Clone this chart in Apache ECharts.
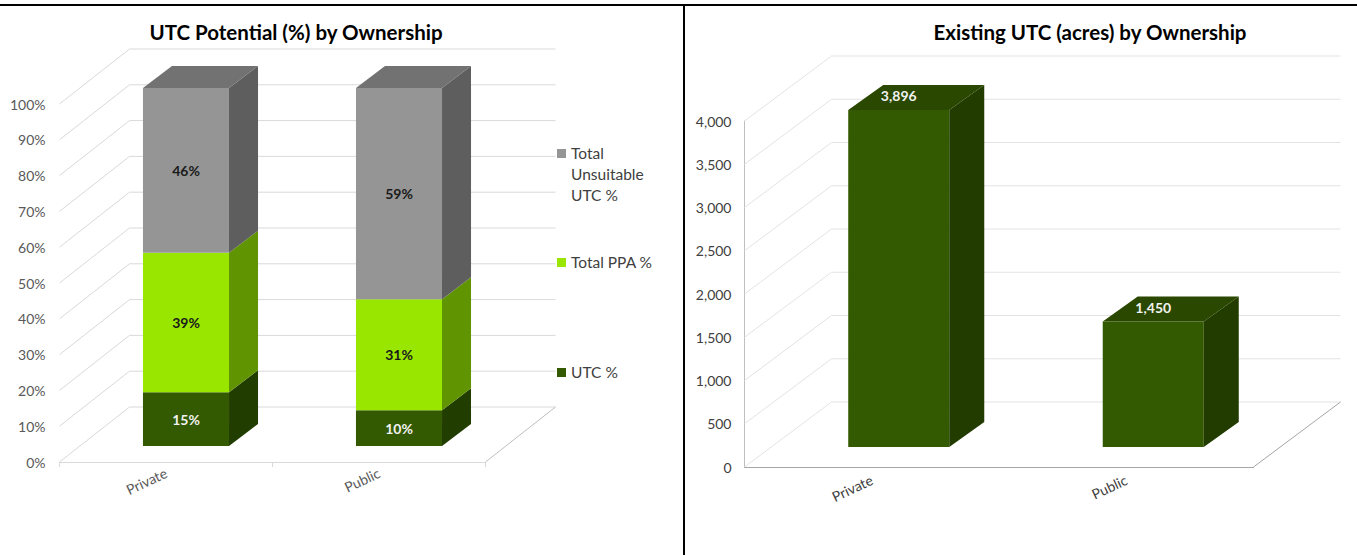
<!DOCTYPE html>
<html><head><meta charset="utf-8">
<script src="https://cdn.jsdelivr.net/npm/echarts@6/dist/echarts.min.js"></script>
<style>html,body{margin:0;padding:0;background:#fff}#c{width:1357px;height:555px}</style>
</head><body><div id="c"></div>
<script>
// ---------- data ----------
const categories = ['Private', 'Public'];
const seriesNames = ['UTC %', 'Total PPA %', 'Total Unsuitable UTC %'];
const utcPct = [15, 10];
const ppaPct = [39, 31];
const unsuitablePct = [46, 59];
const pctTicks = [0, 10, 20, 30, 40, 50, 60, 70, 80, 90, 100];
const acres = [3896, 1450];
const acreTicks = [0, 500, 1000, 1500, 2000, 2500, 3000, 3500, 4000];
const leftTitle = 'UTC Potential (%) by Ownership';
const rightTitle = 'Existing UTC (acres) by Ownership';

// ---------- styles ----------
const FONT = 'Lato, "Liberation Sans", sans-serif';
const segStyles = [
  { front: '#335a00', side: '#223d00', top: '#2a4800', label: '#f2f2f2' },
  { front: '#99e600', side: '#609400', top: '#7fc000', label: '#1a1a1a' },
  { front: '#959595', side: '#5e5e5e', top: '#727272', label: '#1a1a1a' }
];

function wallRender(dx, dy, color, floorColor) {
  return function (params, api) {
    const cs = params.coordSys;
    const v = api.value(1);
    const y = api.coord([0, v])[1];
    const x0 = cs.x, x1 = cs.x + cs.width;
    const ch = [{ type: 'polyline', shape: { points: [[x0, y], [x0 + dx, y + dy], [x1 + dx, y + dy]] },
      style: { stroke: color, lineWidth: 1, fill: null } }];
    if (v === 0) ch.push({ type: 'line', shape: { x1: x1, y1: y, x2: x1 + dx, y2: y + dy },
      style: { stroke: floorColor, lineWidth: 1 } });
    return { type: 'group', children: ch };
  };
}

function barRender(cfg) {
  return function (params, api) {
    const i = api.value(0), b = api.value(1), t = api.value(2), val = api.value(3);
    const p0 = api.coord([i, b]), p1 = api.coord([i, t]);
    const w = api.size([1, 0])[0] * cfg.ratio;
    const xl = p0[0] - w / 2, xr = p0[0] + w / 2;
    const yb = p0[1], yt = p1[1];
    const dx = cfg.dx, dy = cfg.dy;
    const ch = [
      { type: 'rect', shape: { x: xl, y: yt, width: w, height: yb - yt }, style: { fill: cfg.front } },
      { type: 'polygon', shape: { points: [[xr, yt], [xr + dx, yt + dy], [xr + dx, yb + dy], [xr, yb]] }, style: { fill: cfg.side } }
    ];
    if (cfg.isTop) ch.push({ type: 'polygon', shape: { points: [[xl, yt], [xr, yt], [xr + dx, yt + dy], [xl + dx, yt + dy]] }, style: { fill: cfg.top } });
    const ly = cfg.labelOnTop ? yt + dy / 2 - 2 : (yb + yt) / 2;
    ch.push({ type: 'text', style: { text: cfg.fmt(val), x: p0[0], y: ly, fill: cfg.label,
      font: 'bold 14px ' + FONT, align: 'center', verticalAlign: 'middle' } });
    return { type: 'group', children: ch };
  };
}

// stacked segments for left chart
const stacks = [utcPct, ppaPct, unsuitablePct];
const leftBarSeries = stacks.map((arr, s) => {
  const data = arr.map((v, i) => {
    let base = 0; for (let k = 0; k < s; k++) base += stacks[k][i];
    return [i, base, base + v, v];
  });
  const st = segStyles[s];
  return {
    type: 'custom', name: seriesNames[s], xAxisIndex: 1, yAxisIndex: 1, z: 3 + s,
    encode: { x: 0, y: [1, 2] }, data: data,
    renderItem: barRender({ ratio: 0.404, dx: 29, dy: -22, front: st.front, side: st.side, top: st.top,
      isTop: s === stacks.length - 1, label: st.label, fmt: v => v + '%' })
  };
});

const fmtNum = v => Number(v).toLocaleString('en-US');

const option = {
  backgroundColor: '#ffffff',
  animation: false,
  grid: [
    { left: 59.5, top: 104, width: 426, height: 358 },      // left front plane
    { left: 79.5, top: 88, width: 426, height: 358 },       // left bar plane
    { left: 744.5, top: 121, width: 509, height: 346 },     // right front plane
    { left: 771.5, top: 101, width: 509, height: 346 }      // right bar plane
  ],
  xAxis: [
    { gridIndex: 0, type: 'category', data: categories,
      axisLine: { show: true, lineStyle: { color: '#d9d9d9' } },
      axisTick: { show: true, length: 5, lineStyle: { color: '#d9d9d9' } },
      axisLabel: { rotate: 25, margin: 10, color: '#595959', fontSize: 14, fontFamily: FONT } },
    { gridIndex: 1, type: 'category', data: categories, show: false },
    { gridIndex: 2, type: 'category', data: categories,
      axisLine: { show: true, lineStyle: { color: '#a6a6a6' } },
      axisTick: { show: false },
      axisLabel: { rotate: 25, margin: 12, color: '#404040', fontSize: 14, fontFamily: FONT } },
    { gridIndex: 3, type: 'category', data: categories, show: false }
  ],
  yAxis: [
    { gridIndex: 0, type: 'value', min: 0, max: 100, interval: 10,
      axisLine: { show: false }, axisTick: { show: false }, splitLine: { show: false },
      axisLabel: { formatter: '{value}%', margin: 14, color: '#595959', fontSize: 14, fontFamily: FONT } },
    { gridIndex: 1, type: 'value', min: 0, max: 100, show: false },
    { gridIndex: 2, type: 'value', min: 0, max: 4000, interval: 500,
      axisLine: { show: true, lineStyle: { color: '#bfbfbf' } }, axisTick: { show: false }, splitLine: { show: false },
      axisLabel: { formatter: fmtNum, margin: 13, color: '#404040', fontSize: 14, fontFamily: FONT } },
    { gridIndex: 3, type: 'value', min: 0, max: 4000, show: false }
  ],
  series: [
    { type: 'custom', name: 'leftWalls', xAxisIndex: 0, yAxisIndex: 0, z: 1, silent: true,
      data: pctTicks.map(v => [0, v]), encode: { x: 0, y: 1 },
      renderItem: wallRender(70, -55, '#d9d9d9', '#bfbfbf') },
    ...leftBarSeries,
    { type: 'custom', name: 'rightWalls', xAxisIndex: 2, yAxisIndex: 2, z: 1, silent: true,
      data: acreTicks.map(v => [0, v]), encode: { x: 0, y: 1 },
      renderItem: wallRender(87, -65, '#e3e3e3', '#a6a6a6') },
    { type: 'custom', name: 'Existing UTC (acres)', xAxisIndex: 3, yAxisIndex: 3, z: 3,
      encode: { x: 0, y: [1, 2] }, data: acres.map((v, i) => [i, 0, v, v]),
      renderItem: barRender({ ratio: 0.397, dx: 35, dy: -25, front: '#335a00', side: '#223c00', top: '#2a4800',
        isTop: true, labelOnTop: true, label: '#f2f2f2', fmt: fmtNum }) }
  ],
  graphic: [
    { type: 'line', shape: { x1: 0, y1: 5, x2: 1357, y2: 5 }, style: { stroke: '#000', lineWidth: 2 } },
    { type: 'line', shape: { x1: 684, y1: 5, x2: 684, y2: 555 }, style: { stroke: '#000', lineWidth: 2 } },
    { type: 'text', x: 296, y: 32, style: { text: leftTitle, font: 'bold 20.5px ' + FONT, fill: '#000', align: 'center', verticalAlign: 'middle' } },
    { type: 'text', x: 1090, y: 32, style: { text: rightTitle, font: 'bold 20.5px ' + FONT, fill: '#000', align: 'center', verticalAlign: 'middle' } },
    // legend for left chart
    { type: 'rect', shape: { x: 557, y: 149, width: 9, height: 9 }, style: { fill: segStyles[2].front } },
    { type: 'text', x: 571, y: 142, style: { text: 'Total\nUnsuitable\nUTC %', font: '15.5px ' + FONT, lineHeight: 21, fill: '#404040', verticalAlign: 'top' } },
    { type: 'rect', shape: { x: 557, y: 258, width: 9, height: 9 }, style: { fill: segStyles[1].front } },
    { type: 'text', x: 571, y: 262, style: { text: seriesNames[1], font: '15.5px ' + FONT, fill: '#404040', verticalAlign: 'middle' } },
    { type: 'rect', shape: { x: 557, y: 368, width: 9, height: 9 }, style: { fill: segStyles[0].front } },
    { type: 'text', x: 571, y: 372, style: { text: seriesNames[0], font: '15.5px ' + FONT, fill: '#404040', verticalAlign: 'middle' } }
  ]
};

const chart = echarts.init(document.getElementById('c'), null, { renderer: 'svg' });
chart.setOption(option);
</script>
</body></html>
